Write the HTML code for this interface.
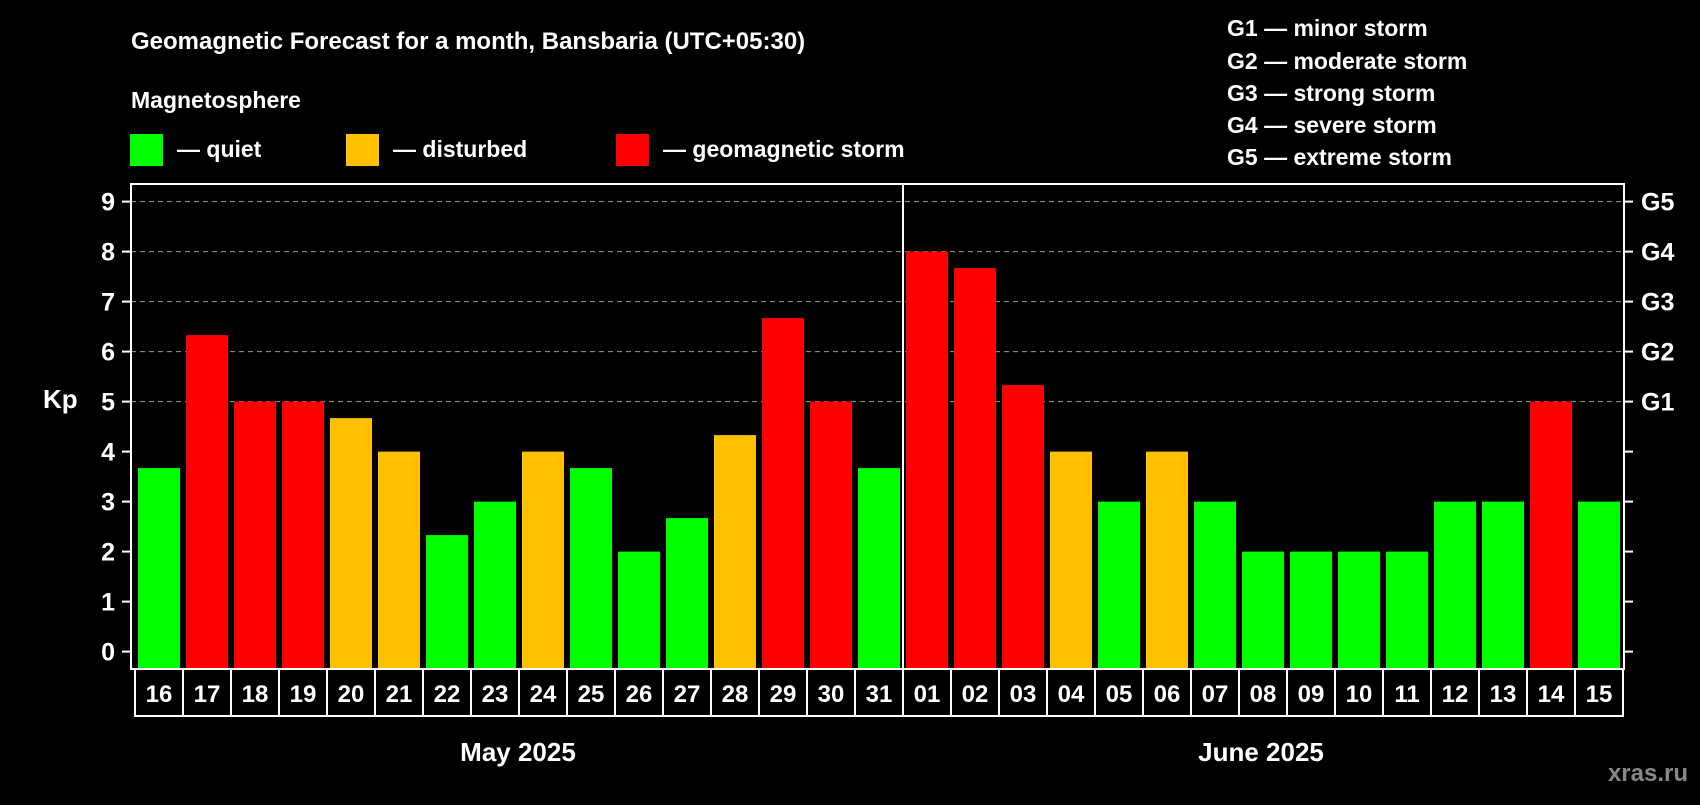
<!DOCTYPE html>
<html><head><meta charset="utf-8"><style>
body{margin:0;background:#000;width:1700px;height:800px;overflow:hidden}
svg text{font-family:"Liberation Sans",Arial,sans-serif;font-weight:bold;fill:#fff}
</style></head><body>
<svg id="chart" width="1700" height="800" xmlns="http://www.w3.org/2000/svg">
<text x="131" y="49" font-size="24">Geomagnetic Forecast for a month, Bansbaria (UTC+05:30)</text>
<text x="131" y="108" font-size="23">Magnetosphere</text>
<g><rect x="130" y="134" width="33" height="32" fill="#00ff00"/><text x="177" y="157" font-size="23">— quiet</text></g>
<g><rect x="346" y="134" width="33" height="32" fill="#ffc000"/><text x="393" y="157" font-size="23">— disturbed</text></g>
<g><rect x="616" y="134" width="33" height="32" fill="#ff0000"/><text x="663" y="157" font-size="23">— geomagnetic storm</text></g>
<g font-size="23">
<text x="1227" y="36">G1 — minor storm</text>
<text x="1227" y="69">G2 — moderate storm</text>
<text x="1227" y="101">G3 — strong storm</text>
<text x="1227" y="133">G4 — severe storm</text>
<text x="1227" y="165">G5 — extreme storm</text>
</g>
<text x="43" y="408" font-size="26">Kp</text>
<text x="518" y="761" font-size="26" text-anchor="middle">May 2025</text>
<text x="1261" y="761" font-size="26" text-anchor="middle">June 2025</text>
<text x="1688" y="781" font-size="24" text-anchor="end" style="fill:#888">xras.ru</text>
<g id="plot"></g>
</svg>
<script>
const days=["16","17","18","19","20","21","22","23","24","25","26","27","28","29","30","31","01","02","03","04","05","06","07","08","09","10","11","12","13","14","15"];
const kp=[3.67,6.33,5,5,4.67,4,2.33,3,4,3.67,2,2.67,4.33,6.67,5,3.67,8,7.67,5.33,4,3,4,3,2,2,2,2,3,3,5,3];
const yTicks=[0,1,2,3,4,5,6,7,8,9];
const gLabels=["G1","G2","G3","G4","G5"];
const NS="http://www.w3.org/2000/svg";
const g=document.getElementById('plot');
const L=131,R=1624,T=184,B=669;
const y=v=>651.6-v*50;
const x=i=>138+i*48;
function mk(t,a){const e=document.createElementNS(NS,t);for(const k in a)e.setAttribute(k,a[k]);g.appendChild(e);return e;}
yTicks.forEach(v=>{
 if(v>=5){const l=mk('line',{x1:L,x2:R,y1:y(v),y2:y(v),stroke:'#999','stroke-dasharray':'5,4','stroke-width':1});
 
 }
 const t1=mk('line',{x1:L-9,x2:L,y1:y(v),y2:y(v),stroke:'#fff','stroke-width':2});
 
 
 const t2=mk('line',{x1:R,x2:R+9,y1:y(v),y2:y(v),stroke:'#fff','stroke-width':2});
 
 
 const tx=mk('text',{x:115,y:y(v)+9,'font-size':25,'text-anchor':'end'});tx.textContent=v;
 
 
});
gLabels.forEach((s,i)=>{const tx=mk('text',{x:1641,y:y(5+i)+9,'font-size':25});tx.textContent=s;
 
 });
kp.forEach((v,i)=>{
 const c=v>=5?'#ff0000':(v>=4?'#ffc000':'#00ff00');
 const r=mk('rect',{x:x(i),y:y(v),width:42,height:B-y(v),fill:c});
 
 
 const b=mk('rect',{x:x(i)-3,y:B,width:48,height:47,fill:'none',stroke:'#fff','stroke-width':2});
 
 
 const t=mk('text',{x:x(i)+21,y:B+33,'font-size':24,'text-anchor':'middle'});t.textContent=days[i];
 
 
});
const f=mk('rect',{x:L,y:T,width:R-L,height:B-T,fill:'none',stroke:'#fff','stroke-width':2});


const d=mk('line',{x1:x(16)-3,x2:x(16)-3,y1:T,y2:B,stroke:'#fff','stroke-width':2});


</script>
</body></html>
